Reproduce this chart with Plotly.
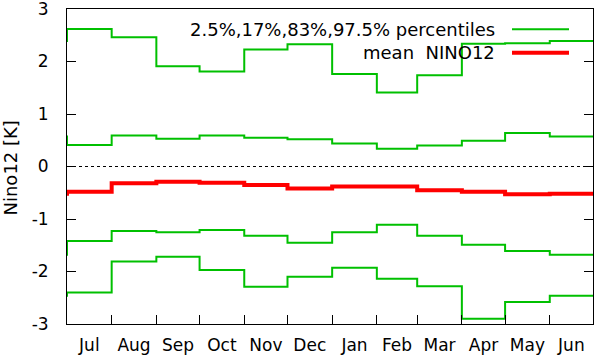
import plotly.graph_objects as go
import numpy as np

months = ["Jul", "Aug", "Sep", "Oct", "Nov", "Dec", "Jan", "Feb", "Mar", "Apr", "May", "Jun"]
month_days = [31, 31, 30, 31, 30, 31, 31, 28, 31, 30, 31, 30]

p975 = [2.62, 2.46, 1.91, 1.81, 2.23, 2.33, 1.76, 1.41, 1.74, 2.34, 2.35, 2.39]
p83 = [0.41, 0.59, 0.53, 0.59, 0.55, 0.52, 0.44, 0.34, 0.40, 0.49, 0.64, 0.57]
p17 = [-1.42, -1.23, -1.25, -1.21, -1.32, -1.45, -1.25, -1.11, -1.32, -1.49, -1.61, -1.68]
p025 = [-2.40, -1.81, -1.72, -1.97, -2.29, -2.10, -1.93, -2.14, -2.28, -2.90, -2.58, -2.46]
mean = [-0.48, -0.32, -0.29, -0.31, -0.35, -0.42, -0.38, -0.38, -0.45, -0.48, -0.53, -0.52]

yticks = [-3, -2, -1, 0, 1, 2, 3]
ytick_labels = ["-3", "-2", "-1", "0", "1", "2", "3"]

starts = np.concatenate([[0], np.cumsum(month_days)[:-1]])
total = int(np.sum(month_days))
mids = starts + np.array(month_days) / 2.0
xs = np.concatenate([[-month_days[-1]], starts, [total]])


def cyc(v):
    return [v[-1]] + list(v) + [v[-1]]


GREEN = "#00c000"
RED = "#ff0000"
FONT = "DejaVu Sans"

fig = go.Figure()
for v in (p975, p83, p17, p025):
    fig.add_trace(go.Scatter(x=xs, y=cyc(v), mode="lines", line_shape="hv",
                             line=dict(color=GREEN, width=2), showlegend=False,
                             hoverinfo="skip"))
fig.add_trace(go.Scatter(x=xs, y=cyc(mean), mode="lines", line_shape="hv",
                         line=dict(color=RED, width=4), showlegend=False,
                         hoverinfo="skip"))

fig.add_hline(y=0, line=dict(color="black", width=1, dash="dot"), layer="below")

L, R, T, B = 67, 2, 9, 34
W, H = 595, 358
pw = W - L - R
ph = H - T - B


def px(x):
    return (x - L) / pw


def py(y):
    return (H - B - y) / ph


fig.update_layout(
    width=W, height=H,
    margin=dict(l=L, r=R, t=T, b=B, pad=0, autoexpand=False),
    paper_bgcolor="white", plot_bgcolor="white",
    font=dict(family=FONT, size=18, color="black"),
    showlegend=False,
    xaxis=dict(
        range=[0, total], tickvals=list(mids), ticktext=months, ticks="",
        ticklabelstandoff=6, automargin=False, ticklabeloverflow="allow",
        tickfont=dict(size=17),
        minor=dict(tickvals=list(starts[1:]), ticks="inside", ticklen=9,
                   tickcolor="black", tickwidth=1),
        showgrid=False, zeroline=False, showline=True, linecolor="black",
        linewidth=1, mirror=True,
    ),
    yaxis=dict(
        range=[-3, 3], tickvals=yticks, ticktext=ytick_labels, ticks="inside",
        ticklen=9, tickcolor="black", ticklabelstandoff=14, automargin=False,
        ticklabeloverflow="allow", tickfont=dict(size=17),
        showgrid=False, zeroline=False, showline=True, linecolor="black",
        linewidth=1, mirror="ticks",
    ),
)

fig.add_annotation(text="Nino12 [K]", xref="paper", yref="paper",
                   x=px(10), y=py(168.5), xanchor="center", yanchor="middle",
                   textangle=-90, showarrow=False)
fig.add_annotation(text="2.5%,17%,83%,97.5% percentiles", xref="paper", yref="paper",
                   x=px(497), y=py(29.3), xanchor="right", yanchor="middle",
                   showarrow=False)
fig.add_annotation(text="mean&nbsp;&nbsp;NINO12", xref="paper", yref="paper",
                   x=px(497), y=py(52.7), xanchor="right", yanchor="middle",
                   showarrow=False)
fig.add_shape(type="line", xref="paper", yref="paper", x0=px(512), x1=px(569),
              y0=py(29.3), y1=py(29.3), line=dict(color=GREEN, width=2))
fig.add_shape(type="line", xref="paper", yref="paper", x0=px(512), x1=px(569),
              y0=py(52.7), y1=py(52.7), line=dict(color=RED, width=4))

fig.write_html("out.html", config={"displayModeBar": False},
               post_script=["document.body.style.margin='0px';"])
